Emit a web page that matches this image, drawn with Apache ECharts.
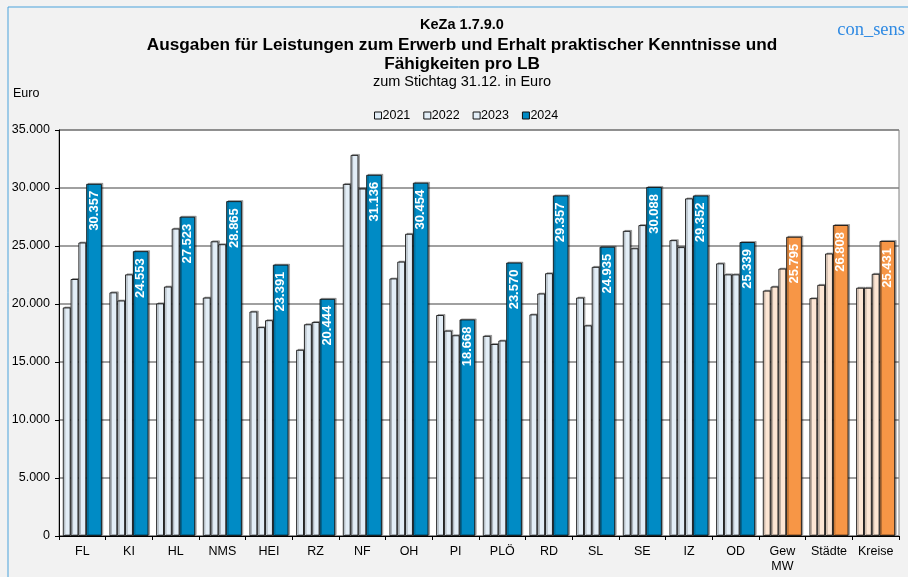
<!DOCTYPE html>
<head>
    <meta charset="UTF-8">
    <title>KeZa 1.7.9.0</title>
</head>
<body style="margin:0;background:#f2f2f2">
<div id="main" style="width:908px;height:577px"></div>
<script src="https://cdn.jsdelivr.net/npm/echarts@6/dist/echarts.min.js"></script>
<script type="text/javascript">
    var kategorien = ['FL','KI','HL','NMS','HEI','RZ','NF','OH','PI','PLÖ','RD','SL','SE','IZ','OD','Gew\nMW','Städte','Kreise'];
    var jahre = ['2021','2022','2023','2024'];
    var werte2021 = [19700,21000,20050,20550,19350,16050,30350,22200,19050,17250,19100,20550,26300,25500,23500,21150,20500,21400];
    var werte2022 = [22150,20300,21500,25400,18000,18250,32850,23650,17700,16550,20900,18150,24800,24900,22550,21500,21650,21400];
    var werte2023 = [25300,22550,26500,25150,18600,18450,29950,26050,17300,16850,22650,23200,26800,29100,22550,23050,24350,22600];
    var werte2024 = [30357,24553,27523,28865,23391,20444,31136,30454,18668,23570,29357,24935,30088,29352,25339,25795,26808,25431];
    var yTicks = [0,5000,10000,15000,20000,25000,30000,35000];

    // Gew MW, Städte, Kreise in orange
    var orangeIdx = [15,16,17];
    var hellBlau = '#e3eef7', blau = '#008bc5';
    var hellOrange = '#fde6d4', orange = '#f79646';

    function fmt(v) {
        var s = String(Math.round(v));
        return s.replace(/\B(?=(\d{3})+(?!\d))/g, '.');
    }

    function baueDaten(werte, hell) {
        var arr = [];
        for (var i = 0; i < werte.length; i++) {
            if (orangeIdx.indexOf(i) >= 0) {
                arr.push({value: werte[i], itemStyle: {color: hell ? hellOrange : orange}});
            } else {
                arr.push(werte[i]);
            }
        }
        return arr;
    }

    var balkenStil = function (farbe) {
        return {
            color: farbe,
            borderColor: '#111',
            borderWidth: 0.9,
            shadowColor: 'rgba(0,0,0,0.3)',
            shadowOffsetX: 1.5,
            shadowOffsetY: -1
        };
    };

    var serien = [];
    var alle = [werte2021, werte2022, werte2023, werte2024];
    for (var k = 0; k < 4; k++) {
        var letzte = (k === 3);
        serien.push({
            name: jahre[k],
            type: 'bar',
            barWidth: letzte ? 15.6 : 7.8,
            barGap: '0%',
            data: baueDaten(alle[k], !letzte),
            itemStyle: balkenStil(letzte ? blau : hellBlau),
            label: letzte ? {
                show: true,
                position: 'insideTop',
                rotate: 90,
                align: 'right',
                verticalAlign: 'middle',
                distance: 7,
                color: '#fff',
                fontFamily: 'Liberation Sans',
                fontWeight: 'bold',
                fontSize: 13,
                formatter: function (p) { return fmt(p.value); }
            } : {show: false}
        });
    }

    var textFont = 'Liberation Sans';

    var option = {
        backgroundColor: '#f2f2f2',
        animation: false,
        textStyle: {fontFamily: textFont},
        graphic: [
            {type: 'rect', shape: {x: 8, y: 7, width: 910, height: 580}, style: {fill: 'none', stroke: '#4ba3dc', lineWidth: 1}, silent: true},
            {type: 'text', x: 462, y: 25, style: {text: 'KeZa 1.7.9.0', fontFamily: textFont, fontWeight: 'bold', fontSize: 14.5, align: 'center', verticalAlign: 'middle', fill: '#000'}},
            {type: 'text', x: 462, y: 45, style: {text: 'Ausgaben für Leistungen zum Erwerb und Erhalt praktischer Kenntnisse und', fontFamily: textFont, fontWeight: 'bold', fontSize: 17.2, align: 'center', verticalAlign: 'middle', fill: '#000'}},
            {type: 'text', x: 462, y: 64, style: {text: 'Fähigkeiten pro LB', fontFamily: textFont, fontWeight: 'bold', fontSize: 17.2, align: 'center', verticalAlign: 'middle', fill: '#000'}},
            {type: 'text', x: 462, y: 82, style: {text: 'zum Stichtag 31.12. in Euro', fontFamily: textFont, fontSize: 14.5, align: 'center', verticalAlign: 'middle', fill: '#000'}},
            {type: 'text', x: 13, y: 94, style: {text: 'Euro', fontFamily: textFont, fontSize: 12.5, align: 'left', verticalAlign: 'middle', fill: '#000'}},
            {type: 'text', x: 905, y: 30, style: {text: 'con_sens', fontFamily: 'Liberation Serif', fontSize: 18.5, align: 'right', verticalAlign: 'middle', fill: '#2f8ae3'}}
        ],
        legend: {
            data: jahre,
            left: 369,
            top: 104,
            itemWidth: 7,
            itemHeight: 7,
            itemGap: 13,
            icon: 'rect',
            itemStyle: {borderWidth: 1, shadowColor: 'transparent'},
            textStyle: {fontFamily: textFont, fontSize: 12.5, color: '#000', padding: [0, 0, 0, -4]}
        },
        grid: {
            left: 59,
            right: 9,
            top: 130,
            bottom: 41,
            show: true,
            backgroundColor: '#fff',
            borderColor: '#808080',
            borderWidth: 1
        },
        xAxis: {
            type: 'category',
            data: kategorien,
            axisLine: {lineStyle: {color: '#000', width: 1}},
            axisTick: {show: true, length: 4, lineStyle: {color: '#000'}},
            axisLabel: {color: '#000', fontSize: 12.5, margin: 8, interval: 0, lineHeight: 15}
        },
        yAxis: {
            type: 'value',
            min: yTicks[0],
            max: yTicks[yTicks.length - 1],
            interval: 5000,
            axisLine: {show: true, lineStyle: {color: '#000', width: 1}},
            axisTick: {show: true, length: 4, lineStyle: {color: '#000'}},
            axisLabel: {color: '#000', fontSize: 12.5, margin: 9, formatter: function (v) { return fmt(v); }},
            splitLine: {show: true, lineStyle: {color: '#808080', width: 1.5}}
        },
        series: serien
    };

    var myChart = echarts.init(document.getElementById('main'));
    myChart.setOption(option);
</script>
</body>
